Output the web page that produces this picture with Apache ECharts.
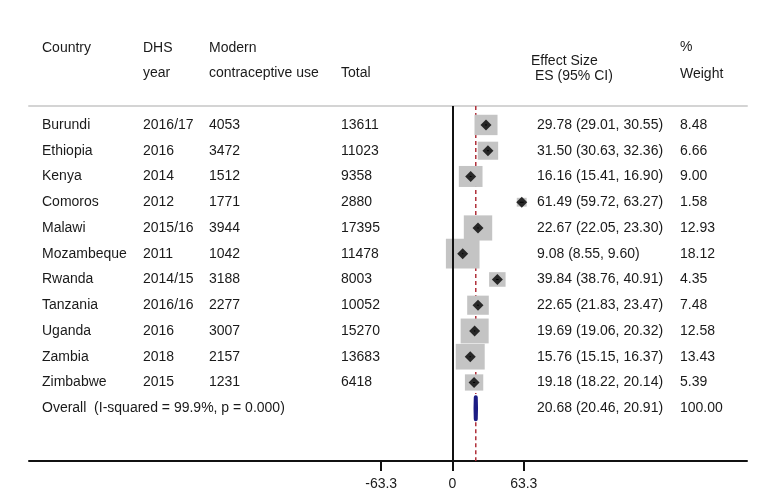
<!DOCTYPE html>
<html><head><meta charset="utf-8">
<script src="https://cdn.jsdelivr.net/npm/echarts@6/dist/echarts.min.js"></script>
<style>html,body{margin:0;padding:0;background:#fff}#c{width:767px;height:491px}</style>
</head><body><div id="c"></div>
<script>
const countries = ['Burundi','Ethiopia','Kenya','Comoros','Malawi','Mozambeque','Rwanda','Tanzania','Uganda','Zambia','Zimbabwe'];
const dhsYear = ['2016/17','2016','2014','2012','2015/16','2011','2014/15','2016/16','2016','2018','2015'];
const modernUse = [4053,3472,1512,1771,3944,1042,3188,2277,3007,2157,1231];
const totals = [13611,11023,9358,2880,17395,11478,8003,10052,15270,13683,6418];
const esValues = [29.78,31.50,16.16,61.49,22.67,9.08,39.84,22.65,19.69,15.76,19.18];
const ciLow = [29.01,30.63,15.41,59.72,22.05,8.55,38.76,21.83,19.06,15.15,18.22];
const ciHigh = [30.55,32.36,16.90,63.27,23.30,9.60,40.91,23.47,20.32,16.37,20.14];
const weights = [8.48,6.66,9.00,1.58,12.93,18.12,4.35,7.48,12.58,13.43,5.39];
const overallLabel = 'Overall  (I-squared = 99.9%, p = 0.000)';
const overallES = 20.68, overallLow = 20.46, overallHigh = 20.91, overallWeight = '100.00';
const tickValues = [-63.3, 0, 63.3];

const FONT = '14px "Liberation Sans", Arial, Helvetica, sans-serif';
const TXT = '#1a1a1a';
const X_MIN = -376.0, X_MAX = 261.5, Y_MIN = -0.736, Y_MAX = 13.05;
const nRows = countries.length;
const overallRow = nRows;

const fmt2 = v => v.toFixed(2);
const tableRows = countries.map((c, i) => [i, c, dhsYear[i], String(modernUse[i]), String(totals[i]),
  fmt2(esValues[i]) + ' (' + fmt2(ciLow[i]) + ', ' + fmt2(ciHigh[i]) + ')', fmt2(weights[i])]);
tableRows.push([overallRow, overallLabel, '', '', '',
  fmt2(overallES) + ' (' + fmt2(overallLow) + ', ' + fmt2(overallHigh) + ')', overallWeight]);

const colX = [42, 143, 209, 341, 537, 680];

const chart = echarts.init(document.getElementById('c'), null, {renderer: 'canvas'});

function hdr(text, x, y) {
  return {type: 'text', x: x, y: y, style: {text: text, font: FONT, fill: TXT, verticalAlign: 'middle', align: 'left'}};
}

chart.setOption({
  animation: false,
  backgroundColor: '#fff',
  grid: {left: 29, right: 20, top: 106, bottom: 29},
  xAxis: [{
    type: 'value', min: X_MIN, max: X_MAX, position: 'bottom',
    axisLine: {show: true, onZero: false, lineStyle: {color: '#111', width: 2}},
    axisTick: {show: true, customValues: tickValues, length: 10, lineStyle: {color: '#111', width: 2}},
    axisLabel: {show: true, customValues: tickValues, formatter: v => String(v), color: TXT, fontSize: 14,
      fontFamily: '"Liberation Sans", Arial, sans-serif', margin: 16},
    splitLine: {show: false}
  }, {
    type: 'value', min: X_MIN, max: X_MAX, position: 'top',
    axisLine: {show: true, onZero: false, lineStyle: {color: '#d4d4d4', width: 2}},
    axisTick: {show: false}, axisLabel: {show: false}, splitLine: {show: false}
  }],
  yAxis: {type: 'value', min: Y_MIN, max: Y_MAX, inverse: true, show: false},
  graphic: [
    hdr('Country', 42, 48), hdr('DHS', 143, 48), hdr('Modern', 209, 48),
    hdr('year', 143, 73), hdr('contraceptive use', 209, 73), hdr('Total', 341, 73),
    hdr('Effect Size', 531, 61), hdr('ES (95% CI)', 535, 76),
    hdr('%', 680, 47), hdr('Weight', 680, 74)
  ],
  series: [
    { // zero line
      type: 'line', data: [], xAxisIndex: 0,
      markLine: {silent: true, symbol: ['none', 'none'], label: {show: false},
        lineStyle: {color: '#111', width: 2, type: 'solid'}, data: [{xAxis: 0}]}
    },
    { // red dashed overall line, broken around the diamond
      type: 'custom', xAxisIndex: 0,
      data: [[overallES, Y_MIN, overallRow - 0.55], [overallES, overallRow + 0.55, Y_MAX]],
      renderItem: (p, api) => {
        const a = api.coord([api.value(0), api.value(1)]);
        const b = api.coord([api.value(0), api.value(2)]);
        return {type: 'line', shape: {x1: a[0], y1: a[1], x2: b[0], y2: b[1]},
          style: {stroke: '#b0303a', lineWidth: 1.5, lineDash: [4, 3]}};
      }
    },
    { // weight boxes
      type: 'custom', xAxisIndex: 0,
      data: esValues.map((v, i) => [v, i, weights[i]]),
      renderItem: (p, api) => {
        const c = api.coord([api.value(0), api.value(1)]);
        const s = Math.sqrt(api.value(2));
        const w = 7.9 * s, h = 7.0 * s;
        return {type: 'rect', shape: {x: c[0] - w / 2, y: c[1] - h / 2, width: w, height: h},
          style: {fill: '#c4c4c4'}};
      }
    },
    { // CI lines
      type: 'custom', xAxisIndex: 0,
      data: esValues.map((v, i) => [ciLow[i], ciHigh[i], i]),
      renderItem: (p, api) => {
        const a = api.coord([api.value(0), api.value(2)]);
        const b = api.coord([api.value(1), api.value(2)]);
        return {type: 'line', shape: {x1: a[0], y1: a[1], x2: b[0], y2: b[1]},
          style: {stroke: '#000', lineWidth: 1}};
      }
    },
    { // point estimates
      type: 'scatter', xAxisIndex: 0, symbol: 'diamond', symbolSize: [11, 11],
      itemStyle: {color: '#000'},
      data: esValues.map((v, i) => [v, i])
    },
    { // overall diamond
      type: 'custom', xAxisIndex: 0,
      data: [[overallLow, overallES, overallHigh, overallRow]],
      renderItem: (p, api) => {
        const l = api.coord([api.value(0), api.value(3)]);
        const m = api.coord([api.value(1), api.value(3)]);
        const r = api.coord([api.value(2), api.value(3)]);
        return {type: 'polygon', shape: {points: [[l[0], m[1]], [m[0], m[1] - 11], [r[0], m[1]], [m[0], m[1] + 11]]},
          style: {fill: '#14147a', stroke: '#1c1c84', lineWidth: 4, lineJoin: 'round'}};
      }
    },
    { // table text
      type: 'custom', xAxisIndex: 0,
      data: tableRows,
      renderItem: (p, api) => {
        const row = tableRows[p.dataIndex];
        const y = api.coord([0, row[0]])[1];
        const children = [];
        for (let k = 0; k < 6; k++) {
          const t = row[k + 1];
          if (!t) continue;
          children.push({type: 'text', x: colX[k], y: y,
            style: {text: t, font: FONT, fill: TXT, verticalAlign: 'middle', align: 'left'}});
        }
        return {type: 'group', children: children};
      }
    }
  ]
});
</script>
</body></html>
